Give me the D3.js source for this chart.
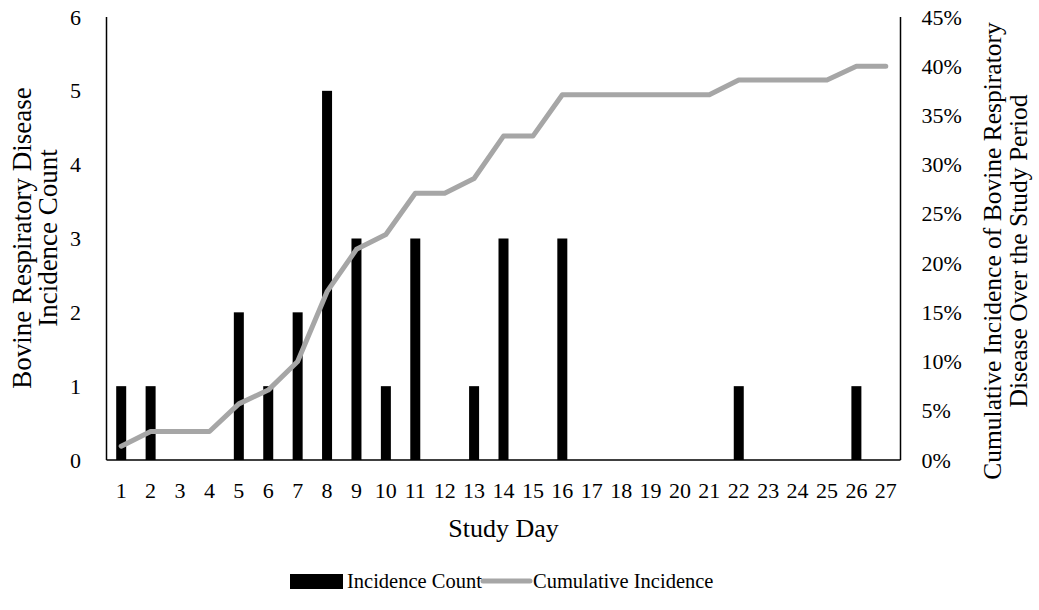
<!DOCTYPE html>
<html>
<head>
<meta charset="utf-8">
<script src="https://cdn.jsdelivr.net/npm/d3@7"></script>
<style>
  body { margin: 0; background: #fff; }
  text { font-family: "Liberation Serif", "Times New Roman", serif; fill: #000; }
</style>
</head>
<body>
<svg id="chart" width="1039" height="610"></svg>
<script>
// study days on the x axis
var days = d3.range(1, 28).map(String)
// incidence count per day (left axis)
var counts = [1, 1, 0, 0, 2, 1, 2, 5, 3, 1, 3, 0, 1, 3, 0, 3, 0, 0, 0, 0, 0, 1, 0, 0, 0, 1, 0]
// cumulative incidence in percent (right axis)
var cumulative = [1.4, 2.9, 2.9, 2.9, 5.7, 7.1, 10.0, 17.1, 21.4, 22.9, 27.1, 27.1, 28.6, 32.9, 32.9,
                  37.1, 37.1, 37.1, 37.1, 37.1, 37.1, 38.6, 38.6, 38.6, 38.6, 40.0, 40.0]
var leftTicks = [0, 1, 2, 3, 4, 5, 6]
var rightTicks = [0, 5, 10, 15, 20, 25, 30, 35, 40, 45]

var svg = d3.select("#chart")
var width = 1039, height = 610
var x0 = 106.5, x1 = 900.5
var yTop = 17, yBot = 460

var x = d3.scaleBand().domain(days).range([x0, x1]).paddingInner(0.66).paddingOuter(0.33)
var y = d3.scaleLinear().domain([0, 6]).range([yBot, yTop])
var y2 = d3.scaleLinear().domain([0, 45]).range([yBot, yTop])

// bars
svg.append("g")
  .selectAll("rect")
  .data(counts)
  .enter()
  .append("rect")
  .attr("x", (d, i) => x(days[i]))
  .attr("width", x.bandwidth())
  .attr("y", d => y(d))
  .attr("height", d => yBot - y(d))
  .attr("fill", "#000")

// cumulative line
var line = d3.line()
  .x((d, i) => x(days[i]) + x.bandwidth() / 2)
  .y(d => y2(d))

svg.append("path")
  .datum(cumulative)
  .attr("d", line)
  .attr("fill", "none")
  .attr("stroke", "#a6a6a6")
  .attr("stroke-width", 5)
  .attr("stroke-linejoin", "round")
  .attr("stroke-linecap", "round")

// axes
var axisX = d3.axisBottom(x).tickSize(0).tickPadding(22)
var gx = svg.append("g").attr("transform", `translate(0,${yBot})`).call(axisX)
gx.select(".domain").attr("d", `M${x0},0H${x1}`).attr("stroke", "#000").attr("stroke-width", 1.5)
gx.selectAll("text").style("font-size", "22px").style("font-family", "Liberation Serif")

var axisL = d3.axisLeft(y).tickValues(leftTicks).tickSize(0).tickFormat(d3.format("d"))
var gl = svg.append("g").attr("transform", `translate(${x0},0)`).call(axisL)
gl.select(".domain").attr("d", `M0,${yTop}V${yBot}`).attr("stroke", "#000").attr("stroke-width", 1.5)
gl.selectAll("text").style("font-size", "22px").style("font-family", "Liberation Serif")
  .attr("text-anchor", "middle").attr("x", -31)

var axisR = d3.axisRight(y2).tickValues(rightTicks).tickSize(0).tickPadding(21)
  .tickFormat(d => d + "%")
var gr = svg.append("g").attr("transform", `translate(${x1},0)`).call(axisR)
gr.select(".domain").attr("d", `M0,${yTop}V${yBot}`).attr("stroke", "#000").attr("stroke-width", 1.5)
gr.selectAll("text").style("font-size", "22px").style("font-family", "Liberation Serif")

// axis titles
var leftTitle = ["Bovine Respiratory Disease", "Incidence Count"]
leftTitle.forEach((t, i) => {
  svg.append("text")
    .attr("transform", `translate(${31 + i * 26},238) rotate(-90)`)
    .attr("text-anchor", "middle")
    .style("font-size", "27px")
    .text(t)
})
var rightTitle = ["Cumulative Incidence of Bovine Respiratory", "Disease Over the Study Period"]
rightTitle.forEach((t, i) => {
  svg.append("text")
    .attr("transform", `translate(${1001 + i * 26},251) rotate(-90)`)
    .attr("text-anchor", "middle")
    .style("font-size", "25.5px")
    .text(t)
})
svg.append("text")
  .attr("x", (x0 + x1) / 2)
  .attr("y", 537)
  .attr("text-anchor", "middle")
  .style("font-size", "26px")
  .text("Study Day")

// legend
var lg = svg.append("g").attr("transform", "translate(290,581)")
lg.append("rect").attr("x", 0).attr("y", -7).attr("width", 53).attr("height", 15).attr("fill", "#000")
lg.append("text").attr("x", 57).attr("y", 7).style("font-size", "20.5px").text("Incidence Count")
lg.append("line").attr("x1", 193).attr("x2", 240).attr("y1", 0).attr("y2", 0)
  .attr("stroke", "#a6a6a6").attr("stroke-width", 5).attr("stroke-linecap", "round")
lg.append("text").attr("x", 243).attr("y", 7).style("font-size", "20.5px").text("Cumulative Incidence")
</script>
</body>
</html>
